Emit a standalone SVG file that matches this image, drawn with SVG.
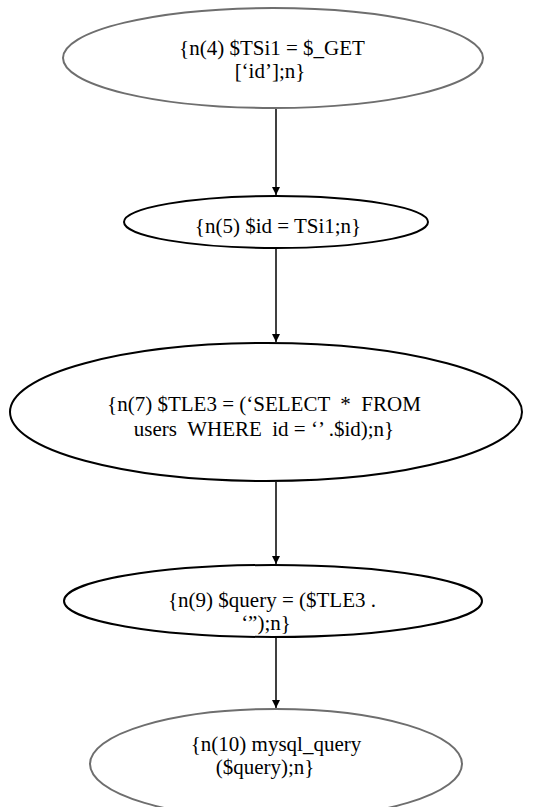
<svg xmlns="http://www.w3.org/2000/svg" width="540" height="807" viewBox="0 0 540 807">
<defs>
<style>
.node{fill:#ffffff;stroke-width:2}
.blk{stroke:#000000}
.gry{stroke:#6e6e6e}
.t{font-family:"Liberation Serif","Times New Roman",serif;font-size:21px;fill:#000;text-anchor:middle;white-space:pre}
.edge{stroke:#000;stroke-width:1.5;fill:none;marker-end:url(#arr)}
</style>
<marker id="arr" markerWidth="10" markerHeight="10" refX="8" refY="4" orient="auto" markerUnits="userSpaceOnUse">
<path d="M0,0 L8,4 L0,8 Z" fill="#000"/>
</marker>
</defs>
<rect width="540" height="807" fill="#ffffff"/>
<g id="connectors">
<line class="edge" x1="276" y1="109" x2="276" y2="195"/>
<line class="edge" x1="276" y1="249" x2="276" y2="342"/>
<line class="edge" x1="276" y1="482" x2="276" y2="564"/>
<line class="edge" x1="276" y1="638" x2="276" y2="708"/>
</g>
<g id="n4">
<ellipse class="node gry" cx="273" cy="58" rx="210" ry="50"/>
<text class="t" x="272" y="55">{n(4) $TSi1 = $_GET</text>
<text class="t" x="270" y="78">[‘id’];n}</text>
</g>
<g id="n5">
<ellipse class="node blk" cx="276" cy="222" rx="152" ry="26"/>
<text class="t" x="278" y="233">{n(5) $id = TSi1;n}</text>
</g>
<g id="n7">
<ellipse class="node blk" cx="266" cy="412" rx="256" ry="69"/>
<text class="t" x="264" y="411">{n(7) $TLE3 = (‘SELECT  *  FROM</text>
<text class="t" x="264" y="436">users  WHERE  id = ‘’ .$id);n}</text>
</g>
<g id="n9">
<ellipse class="node blk" cx="273" cy="601" rx="209" ry="36"/>
<text class="t" x="272" y="607">{n(9) $query = ($TLE3 .</text>
<text class="t" x="266" y="630">‘”);n}</text>
</g>
<g id="n10">
<ellipse class="node gry" cx="276" cy="764" rx="186" ry="55"/>
<text class="t" x="276" y="751">{n(10) mysql_query</text>
<text class="t" x="265" y="774">($query);n}</text>
</g>
</svg>
